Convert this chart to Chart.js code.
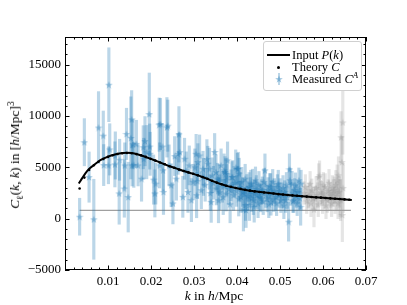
<!DOCTYPE html>
<html lang="en">
<head>
<meta charset="UTF-8">
<title>Measured C(k,k)</title>
<script src="https://cdn.jsdelivr.net/npm/chart.js"></script>
<style>
  body { margin: 0; background: #fff; }
  #wrap { position: relative; width: 407px; height: 305px; font-family: 'Liberation Serif', serif; color: #000; }
  #chart { position: absolute; left: 0; top: 0; }
  .title { position: absolute; white-space: nowrap; font-size: 13.5px; line-height: 14px; }
  .ytitle { left: 15px; top: 155px; transform: translate(-50%, -50%) rotate(-90deg); }
  .xtitle { left: 214px; top: 296px; transform: translate(-50%, -50%); }
  sub, sup { font-size: 70%; line-height: 0; }
  .legend { position: absolute; left: 263px; top: 41px; width: 99px; height: 50px; box-sizing: border-box;
            border: 1px solid #d0d0d0; border-radius: 3px; background: rgba(255,255,255,0.8);
            padding-top: 7px; font-size: 12.5px; }
  .row { position: relative; height: 12px; line-height: 12px; padding-left: 28px; white-space: nowrap; }
  .h { position: absolute; }
  .h-line { left: 3px; top: 5px; width: 23px; height: 2px; background: #000; }
  .h-dot { left: 13px; top: 4.5px; width: 3px; height: 3px; border-radius: 50%; background: #000; }
  .h-err { left: 13.5px; top: 0px; width: 2px; height: 12px; background: rgba(31,119,180,0.3); }
  .h-star { left: 10.5px; top: 2px; }
</style>
</head>
<body>
<div id="wrap">
  <canvas id="chart" width="407" height="305"></canvas>
  <div class="title ytitle"><i>C</i><sub>ℓ</sub>(<i>k</i>, <i>k</i>) in [<i>h</i>/Mpc]<sup>3</sup></div>
  <div class="title xtitle"><i>k</i> in <i>h</i>/Mpc</div>
  <div class="legend">
    <div class="row"><span class="h h-line"></span>Input <i>P</i>(<i>k</i>)</div>
    <div class="row"><span class="h h-dot"></span>Theory <i>C</i></div>
    <div class="row" id="measRow"><span class="h h-err"></span>Measured <i>C<sup>A</sup></i></div>
  </div>
</div>
<script>
// input power spectrum (solid line)
const inputK = [0.0032, 0.0040, 0.0047, 0.0055, 0.0066, 0.0077, 0.0089, 0.0100, 0.0116, 0.0130,
                0.0143, 0.0155, 0.0170, 0.0185, 0.0200, 0.0215, 0.0230, 0.0245, 0.0260, 0.0278,
                0.0297, 0.0315, 0.0330, 0.0345, 0.0360, 0.0380, 0.0400, 0.0420, 0.0440, 0.0460,
                0.0480, 0.0500, 0.0530, 0.0560, 0.0590, 0.0620, 0.0645, 0.0667];
const inputP = [3420, 3950, 4390, 4800, 5190, 5550, 5840, 6050, 6260, 6380,
                6420, 6390, 6250, 6060, 5820, 5580, 5330, 5080, 4880, 4620,
                4390, 4130, 3900, 3640, 3400, 3150, 2960, 2800, 2680, 2570,
                2470, 2380, 2260, 2150, 2060, 1970, 1890, 1810];

// theory C (black dots)
const theoryK = [0.0034, 0.0045, 0.0056, 0.0067, 0.0078, 0.0089, 0.0100, 0.0111, 0.0122, 0.0133,
                 0.0144, 0.0155, 0.0166, 0.0177, 0.0188, 0.0199, 0.0210, 0.0221, 0.0232, 0.0243,
                 0.0254, 0.0265, 0.0276, 0.0287, 0.0298, 0.0309, 0.0320, 0.0331, 0.0342, 0.0353,
                 0.0364, 0.0375, 0.0386, 0.0397, 0.0408, 0.0419, 0.0430, 0.0441, 0.0452, 0.0463,
                 0.0474, 0.0485, 0.0496, 0.0507, 0.0518, 0.0529, 0.0540, 0.0551, 0.0562, 0.0573,
                 0.0584, 0.0595, 0.0606, 0.0617, 0.0628, 0.0639, 0.0650, 0.0661];
const theoryC = [2940, 4000, 4750, 5200, 5550, 5820, 6020, 6180, 6300, 6370,
                 6400, 6380, 6290, 6170, 6020, 5830, 5660, 5470, 5300, 5110,
                 4960, 4780, 4640, 4510, 4380, 4220, 4060, 3890, 3690, 3510,
                 3350, 3210, 3100, 2990, 2900, 2810, 2730, 2660, 2600, 2550,
                 2500, 2450, 2390, 2350, 2310, 2270, 2230, 2190, 2150, 2110,
                 2080, 2050, 2010, 1980, 1940, 1910, 1880, 1840];

// measured C^A (blue stars with error bars)
const measK = [0.0034, 0.0045, 0.0056, 0.0067, 0.0078, 0.0089, 0.0090, 0.0101, 0.0102, 0.0104,
               0.0116, 0.0117, 0.0126, 0.0127, 0.0138, 0.0139, 0.0143, 0.0147, 0.0153, 0.0155,
               0.0156, 0.0158, 0.0160, 0.0166, 0.0170, 0.0178, 0.0182, 0.0183, 0.0186, 0.0190,
               0.0196, 0.0197, 0.0198, 0.0206, 0.0209, 0.0211, 0.0219, 0.0220, 0.0222, 0.0227,
               0.0228, 0.0229, 0.0237, 0.0239, 0.0242, 0.0247, 0.0251, 0.0255, 0.0259, 0.0263,
               0.0265, 0.0267, 0.0274, 0.0278, 0.0282, 0.0286, 0.0289, 0.0294, 0.0298, 0.0302,
               0.0305, 0.0306, 0.0308, 0.0309, 0.0313, 0.0317, 0.0321, 0.0322, 0.0326, 0.0330,
               0.0332, 0.0336, 0.0338, 0.0340, 0.0342, 0.0345, 0.0348, 0.0351, 0.0352, 0.0355,
               0.0357, 0.0359, 0.0360, 0.0363, 0.0366, 0.0368, 0.0370, 0.0372, 0.0374, 0.0375,
               0.0376, 0.0378, 0.0381, 0.0384, 0.0386, 0.0388, 0.0390, 0.0392, 0.0395, 0.0397,
               0.0399, 0.0401, 0.0403, 0.0404, 0.0405, 0.0407, 0.0409, 0.0411, 0.0413, 0.0415,
               0.0417, 0.0419, 0.0420, 0.0421, 0.0423, 0.0425, 0.0428, 0.0429, 0.0431, 0.0432,
               0.0434, 0.0436, 0.0438, 0.0440, 0.0441, 0.0443, 0.0445, 0.0447, 0.0449, 0.0451,
               0.0453, 0.0455, 0.0457, 0.0459, 0.0461, 0.0463, 0.0465, 0.0467, 0.0470, 0.0472,
               0.0474, 0.0476, 0.0478, 0.0479, 0.0481, 0.0483, 0.0485, 0.0487, 0.0490, 0.0492,
               0.0494, 0.0496, 0.0498, 0.0500, 0.0502, 0.0505, 0.0507, 0.0509, 0.0511, 0.0513,
               0.0515, 0.0517, 0.0520, 0.0522, 0.0523, 0.0525, 0.0528, 0.0530, 0.0532, 0.0534,
               0.0536, 0.0538, 0.0540, 0.0542, 0.0544, 0.0546, 0.0548, 0.0549];
const measC = [190, 7450, 4050, -60, 8880, 8090, 5220, 5200, 13050, 6750,
               5290, 6160, 2460, 5740, 2940, 5190, 8260, 2100, 7870, 9680,
               5190, 7250, 5250, 7290, 5190, 3900, 6960, 5840, 7550, 6480,
               10190, 7030, 6320, 3810, 2460, 3420, 9160, 5190, 9220, 7030,
               4710, 2610, 8900, 9060, 5190, 3260, 1490, 6100, 3900, 6320,
               8220, 6480, 2130, 5840, 4710, 2610, 5190, 1810, 3600, 5000,
               6320, 2290, 3650, 5510, 6160, 2770, 4870, 4060, 3300, 5800,
               5360, 4870, 2500, 1640, 4230, 3500, 6500, 4550, 2940, 3900,
               1800, 3740, 2580, 5200, 3100, 2100, 4710, 4550, 4390, 2450,
               3780, 5680, 2900, 1400, 3260, 4060, 4060, 2300, 3500, 5000,
               2700, 4870, 4870, 1960, 4390, 3100, 2130, 3600, 2600, 900,
               2450, 3900, 1330, 840, 3000, 2200, 3090, 1320, 2700, 3420,
               2000, 3420, 1800, 1160, 2450, 3740, 2900, 2290, 1500, 3300,
               2100, 1970, 2600, 2770, 1700, 3580, 4710, 2300, 1970, 2800,
               1400, 3200, 3090, 1640, 2500, 3600, 1900, 2700, 2130, 1500,
               3090, 3420, 2300, 2700, 1800, 2290, 3000, 1300, 2600, 1810,
               3300, 2100, -290, 4810, 3740, 2400, 3420, 1700, 1810, 2800,
               3260, 2200, 1500, 2600, 3740, 2000, 1160, 3420];
const measErr = [1800, 2300, 2450, 3900, 3500, 2400, 2000, 1800, 3600, 2500,
                 2200, 2300, 3000, 2000, 2800, 2200, 2500, 3400, 4000, 2800,
                 2000, 2400, 2200, 2300, 2000, 2200, 2100, 2000, 2400, 2600,
                 4000, 2200, 2100, 2400, 2300, 2000, 2600, 2200, 2500, 2200,
                 2000, 2200, 2900, 2500, 2000, 2100, 2000, 1900, 2100, 2000,
                 2700, 1900, 2000, 2000, 1800, 2000, 1900, 2100, 1700, 1800,
                 1900, 2200, 1700, 1800, 2000, 1800, 1700, 1800, 1600, 1900,
                 1700, 2000, 1700, 2000, 1700, 1600, 1800, 1700, 1600, 1500,
                 2200, 1500, 1700, 1600, 1500, 1700, 1600, 1500, 1500, 1700,
                 1500, 1800, 1500, 1800, 1500, 1500, 1600, 1500, 1400, 1700,
                 1500, 1500, 1600, 1700, 1500, 1400, 1500, 1400, 1400, 2100,
                 1400, 1400, 1500, 1700, 1300, 1400, 1400, 1500, 1300, 1300,
                 1300, 1400, 1400, 1500, 1300, 1300, 1300, 1300, 1400, 1300,
                 1300, 1300, 1200, 1300, 1300, 1300, 1600, 1200, 1300, 1200,
                 1300, 1200, 1300, 1300, 1200, 1200, 1200, 1200, 1300, 1200,
                 1200, 1300, 1200, 1200, 1200, 1200, 1200, 1300, 1100, 1200,
                 1200, 1100, 1900, 1500, 1200, 1100, 1200, 1100, 1200, 1100,
                 1200, 1100, 1200, 1100, 1200, 1100, 1800, 1300];

// measured points beyond the fit range (grey)
const farK = [0.0556, 0.0559, 0.0562, 0.0565, 0.0567, 0.0570, 0.0572, 0.0574, 0.0577, 0.0579,
              0.0582, 0.0584, 0.0587, 0.0589, 0.0590, 0.0592, 0.0594, 0.0597, 0.0599, 0.0601,
              0.0603, 0.0605, 0.0607, 0.0610, 0.0612, 0.0614, 0.0616, 0.0618, 0.0620, 0.0622,
              0.0624, 0.0626, 0.0628, 0.0630, 0.0632, 0.0633, 0.0635, 0.0636, 0.0638, 0.0640,
              0.0641, 0.0642, 0.0644, 0.0645, 0.0646, 0.0647];
const farC = [2500, 3090, 1700, 2100, 2290, 3400, 1500, 2770, 2000, 900,
              1970, 3000, 2300, 1400, 4060, 4230, 2600, 2450, 1700, 3300,
              2100, 3090, 1300, 1810, 2700, 3500, 2000, 2290, 1500, 3000,
              2500, 2770, 1800, 3300, 2200, 3740, 1500, 4230, 2600, 2000,
              1810, 7930, 5510, 360, 9380, 3000];
const farErr = [1100, 1200, 1200, 1100, 1200, 1200, 1300, 1100, 1100, 1700,
                1200, 1100, 1200, 1200, 1300, 1400, 1100, 1200, 1200, 1200,
                1100, 1300, 1300, 1200, 1100, 1300, 1200, 1200, 1300, 1200,
                1300, 1300, 1300, 1400, 1400, 1500, 1500, 1800, 1500, 1800,
                2000, 2500, 2500, 2600, 3100, 2400];

// flat noise level (grey horizontal line)
const noiseK = [0.0034, 0.0665];
const noiseLevel = 810;

const xTicks = [0.01, 0.02, 0.03, 0.04, 0.05, 0.06, 0.07];
const yTicks = [-5000, 0, 5000, 10000, 15000];

const BLUE_BAR = 'rgba(31,119,180,0.3)';
const BLUE_STAR = 'rgba(31,119,180,0.4)';
const GREY_BAR = 'rgba(150,150,150,0.25)';
const GREY_STAR = 'rgba(150,150,150,0.35)';

function starImage(color) {
    const c = document.createElement('canvas');
    c.width = 8; c.height = 8;
    const g = c.getContext('2d');
    g.fillStyle = color;
    g.beginPath();
    for (let i = 0; i < 10; i++) {
        const r = i % 2 ? 1.6 : 4;
        const a = -Math.PI / 2 + i * Math.PI / 5;
        g.lineTo(4 + r * Math.cos(a), 4.4 + r * Math.sin(a));
    }
    g.closePath();
    g.fill();
    return c;
}

const legendStar = starImage(BLUE_STAR);
legendStar.className = 'h h-star';
document.getElementById('measRow').appendChild(legendStar);

const pts = (xs, ys) => xs.map((x, i) => ({ x, y: ys[i] }));
const bars = (xs, ys, es) => xs.map((x, i) => ({ x, y: [ys[i] - es[i], ys[i] + es[i]] }));

// inward ticks on all four sides plus the frame, like matplotlib
const frameTicks = {
    id: 'frameTicks',
    afterDatasetsDraw(chart) {
        const { ctx, chartArea: a, scales: { x, y } } = chart;
        ctx.save();
        ctx.strokeStyle = '#000';
        ctx.lineWidth = 1;
        ctx.beginPath();
        for (let i = 0; i <= 35; i++) {
            const px = Math.round(x.getPixelForValue(i * 0.002)) + 0.5;
            const len = i % 5 === 0 ? 4.5 : 2.5;
            ctx.moveTo(px, a.bottom); ctx.lineTo(px, a.bottom - len);
            ctx.moveTo(px, a.top); ctx.lineTo(px, a.top + len);
        }
        for (let v = -5000; v <= 17000; v += 1000) {
            const py = Math.round(y.getPixelForValue(v)) + 0.5;
            const len = v % 5000 === 0 ? 4.5 : 2.5;
            ctx.moveTo(a.left, py); ctx.lineTo(a.left + len, py);
            ctx.moveTo(a.right, py); ctx.lineTo(a.right - len, py);
        }
        ctx.stroke();
        ctx.strokeRect(Math.round(a.left) + 0.5, Math.round(a.top) + 0.5,
                       Math.round(a.right - a.left) - 1, Math.round(a.bottom - a.top) - 1);
        ctx.restore();
    }
};

const tickFont = { family: 'Liberation Serif', size: 13 };

new Chart(document.getElementById('chart'), {
    type: 'scatter',
    data: {
        datasets: [
            {
                type: 'line', label: 'Input P(k)', data: pts(inputK, inputP),
                borderColor: '#000', borderWidth: 2, pointRadius: 0,
                cubicInterpolationMode: 'monotone', order: 0
            },
            {
                type: 'scatter', label: 'Theory C', data: pts(theoryK, theoryC),
                backgroundColor: '#000', borderWidth: 0, pointRadius: 1.3, order: 1
            },
            {
                type: 'scatter', label: 'Measured', data: pts(measK, measC),
                pointStyle: starImage(BLUE_STAR), order: 2
            },
            {
                type: 'scatter', label: 'Measured (out of range)', data: pts(farK, farC),
                pointStyle: starImage(GREY_STAR), order: 2
            },
            {
                type: 'bar', label: 'err', data: bars(measK, measC, measErr),
                backgroundColor: BLUE_BAR, barThickness: 2.5, grouped: false, order: 3
            },
            {
                type: 'bar', label: 'err far', data: bars(farK, farC, farErr),
                backgroundColor: GREY_BAR, barThickness: 2.5, grouped: false, order: 3
            },
            {
                type: 'line', label: 'noise', data: noiseK.map(x => ({ x, y: noiseLevel })),
                borderColor: '#a0a0a0', borderWidth: 1.2, pointRadius: 0, order: 5
            }
        ]
    },
    options: {
        responsive: false,
        animation: false,
        devicePixelRatio: 1,
        layout: { padding: { top: 37, right: 41, left: 0, bottom: 0 } },
        plugins: { legend: { display: false }, tooltip: { enabled: false } },
        scales: {
            x: {
                type: 'linear', min: 0, max: 0.07, offset: false,
                grid: { display: false, drawTicks: false }, border: { display: false },
                afterBuildTicks: s => { s.ticks = xTicks.map(v => ({ value: v })); },
                afterFit: s => { s.height = 35; },
                ticks: {
                    color: '#000', font: tickFont, padding: 4, maxRotation: 0, autoSkip: false,
                    callback: v => v.toFixed(2)
                }
            },
            y: {
                type: 'linear', min: -5000, max: 17700,
                grid: { display: false, drawTicks: false }, border: { display: false },
                afterBuildTicks: s => { s.ticks = yTicks.map(v => ({ value: v })); },
                afterFit: s => { s.width = 65; },
                ticks: {
                    color: '#000', font: tickFont, padding: 4, autoSkip: false,
                    callback: v => (v < 0 ? '\u2212' + Math.abs(v) : String(v))
                }
            }
        }
    },
    plugins: [frameTicks]
});
</script>
</body>
</html>
